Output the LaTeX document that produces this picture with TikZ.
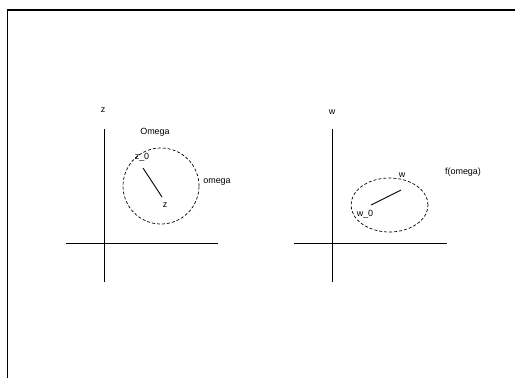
\documentclass[tikz,border=0pt]{standalone}
\usepackage{fontspec}
\setmainfont{Liberation Sans}

\begin{document}
\begin{tikzpicture}[x=1bp,y=1bp,
    lbl/.style={inner sep=0pt,font=\fontsize{9}{10}\selectfont},
    axis/.style={line width=0.8bp},
    region/.style={line width=0.7bp,dash pattern=on 3bp off 2bp}]

    \useasboundingbox (0,0) rectangle (515,378);

    % Frame
    \coordinate (fb) at (7.5,0);
    \coordinate (fc) at (7.5,368);
    \coordinate (fr) at (515,368);
    \draw[line width=1.3bp] (fb) -- (fc) -- (fr);

    % Left plane: axes
    \coordinate (zs) at (104,96);
    \coordinate (zn) at (104,249);
    \coordinate (zw) at (66,135);
    \coordinate (ze) at (218,135);
    \draw[axis] (zs) -- (zn);
    \draw[axis] (zw) -- (ze);

    % Left plane: labels
    \node[lbl] (zlab) at (103,268) {z};
    \node[lbl] (Om) at (155,246) {Omega};
    \node[lbl] (om) at (217,196) {omega};

    % Disc omega
    \coordinate (zc) at (161,192);
    \draw[region] (zc) circle (38);

    % Segment z_0 -- z
    \node[lbl] (z0) at (142,221) {z\_0};
    \node[lbl] (z) at (165,173) {z};
    \coordinate (z0a) at (143,210);
    \coordinate (za) at (162,181);
    \draw[line width=0.9bp] (z0a) -- (za);

    % Right plane: axes
    \coordinate (ws) at (332,96);
    \coordinate (wn) at (332,249);
    \coordinate (ww) at (294,135);
    \coordinate (we) at (447,135);
    \draw[axis] (ws) -- (wn);
    \draw[axis] (ww) -- (we);

    % Right plane: labels
    \node[lbl] (wlab) at (332,266) {w};
    \node[lbl] (fom) at (463,206) {f(omega)};

    % Image region f(omega)
    \coordinate (wc) at (389.5,173);
    \draw[region] (wc) ellipse (38.5 and 27);

    % Segment w_0 -- w
    \node[lbl] (w0) at (365,164) {w\_0};
    \node[lbl] (w) at (402,203) {w};
    \coordinate (w0a) at (371,173);
    \coordinate (wa) at (401,188);
    \draw[line width=0.9bp] (w0a) -- (wa);

\end{tikzpicture}
\end{document}
